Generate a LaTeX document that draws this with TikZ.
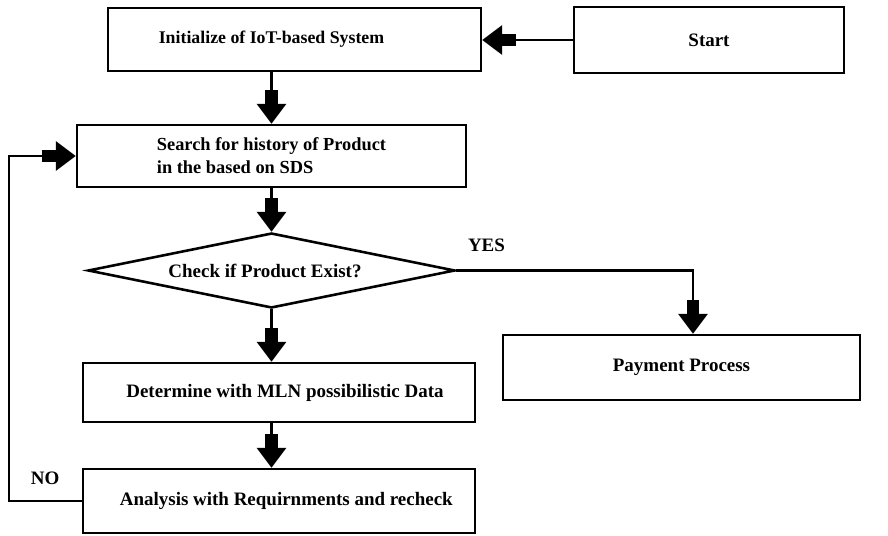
\documentclass[tikz,border=0pt]{standalone}
\usepackage{fontspec}
\setmainfont{Liberation Serif}
\usetikzlibrary{shapes.geometric, arrows.meta, positioning}

\begin{document}
\begin{tikzpicture}[
    x=0.03cm, y=-0.03cm,
    txt/.style={font=\fontsize{16.2}{19}\selectfont\bfseries},
    box/.style={rectangle, draw, line width=2.2pt, txt, inner sep=0pt},
    dec/.style={diamond, draw, line width=2.2pt, txt, inner sep=0pt,
                shape aspect=4.9, minimum width=11.01cm, minimum height=2.25cm},
    flow/.style={line width=2pt,
                 -{Rectangle[length=12pt,width=11pt]Triangle[length=17pt,width=25pt]}}
  ]
    \useasboundingbox (0,0) rectangle (888,536);

    \node[box, minimum width=8.1cm,  minimum height=1.98cm] (start) at (709,40)    {Start};
    \node[box, minimum width=11.19cm, minimum height=1.89cm, font=\fontsize{15.2}{19}\selectfont\bfseries] (init) at (294.5,39.5)
         {Initialize of IoT-based System\hspace*{1.38cm}};
    \node[box, minimum width=11.67cm, minimum height=1.86cm, align=left, font=\fontsize{15.7}{19.5}\selectfont\bfseries] (srch) at (271.5,156)
         {Search for history of Product\\in the based on SDS};
    \node[dec] (chk) at (271.5,270.5) {Check if Product Exist?\hspace*{0.39cm}};
    \node[box, minimum width=10.71cm, minimum height=1.95cm] (pay) at (681.5,367.5) {Payment Process};
    \node[box, minimum width=11.76cm, minimum height=1.77cm] (det) at (279,392.5) {\hspace*{0.36cm}Determine with MLN possibilistic Data};
    \node[box, minimum width=11.76cm, minimum height=1.92cm] (ana) at (279,501) {\hspace*{0.44cm}Analysis with Requirnments and recheck};

    \draw[flow] (start.west) -- (start.west -| init.east);
    \draw[flow] (init.south -| srch.north) -- (srch.north);
    \draw[flow] (srch.south) -- (chk.north);
    \draw[flow] (chk.south) -- (chk.south |- det.north);
    \draw[flow] (det.south -| chk.south) -- (ana.north -| chk.south);
    \draw[flow] (chk.east) node[txt, above right=0.4cm and 0.2cm] (yes) {YES}
                -| ([xshift=0.345cm]pay.north);
    \draw[flow] (ana.west) -- node[txt, above=0.35cm] (no) {NO} ++(-73,0) |- (srch.west);
\end{tikzpicture}
\end{document}
